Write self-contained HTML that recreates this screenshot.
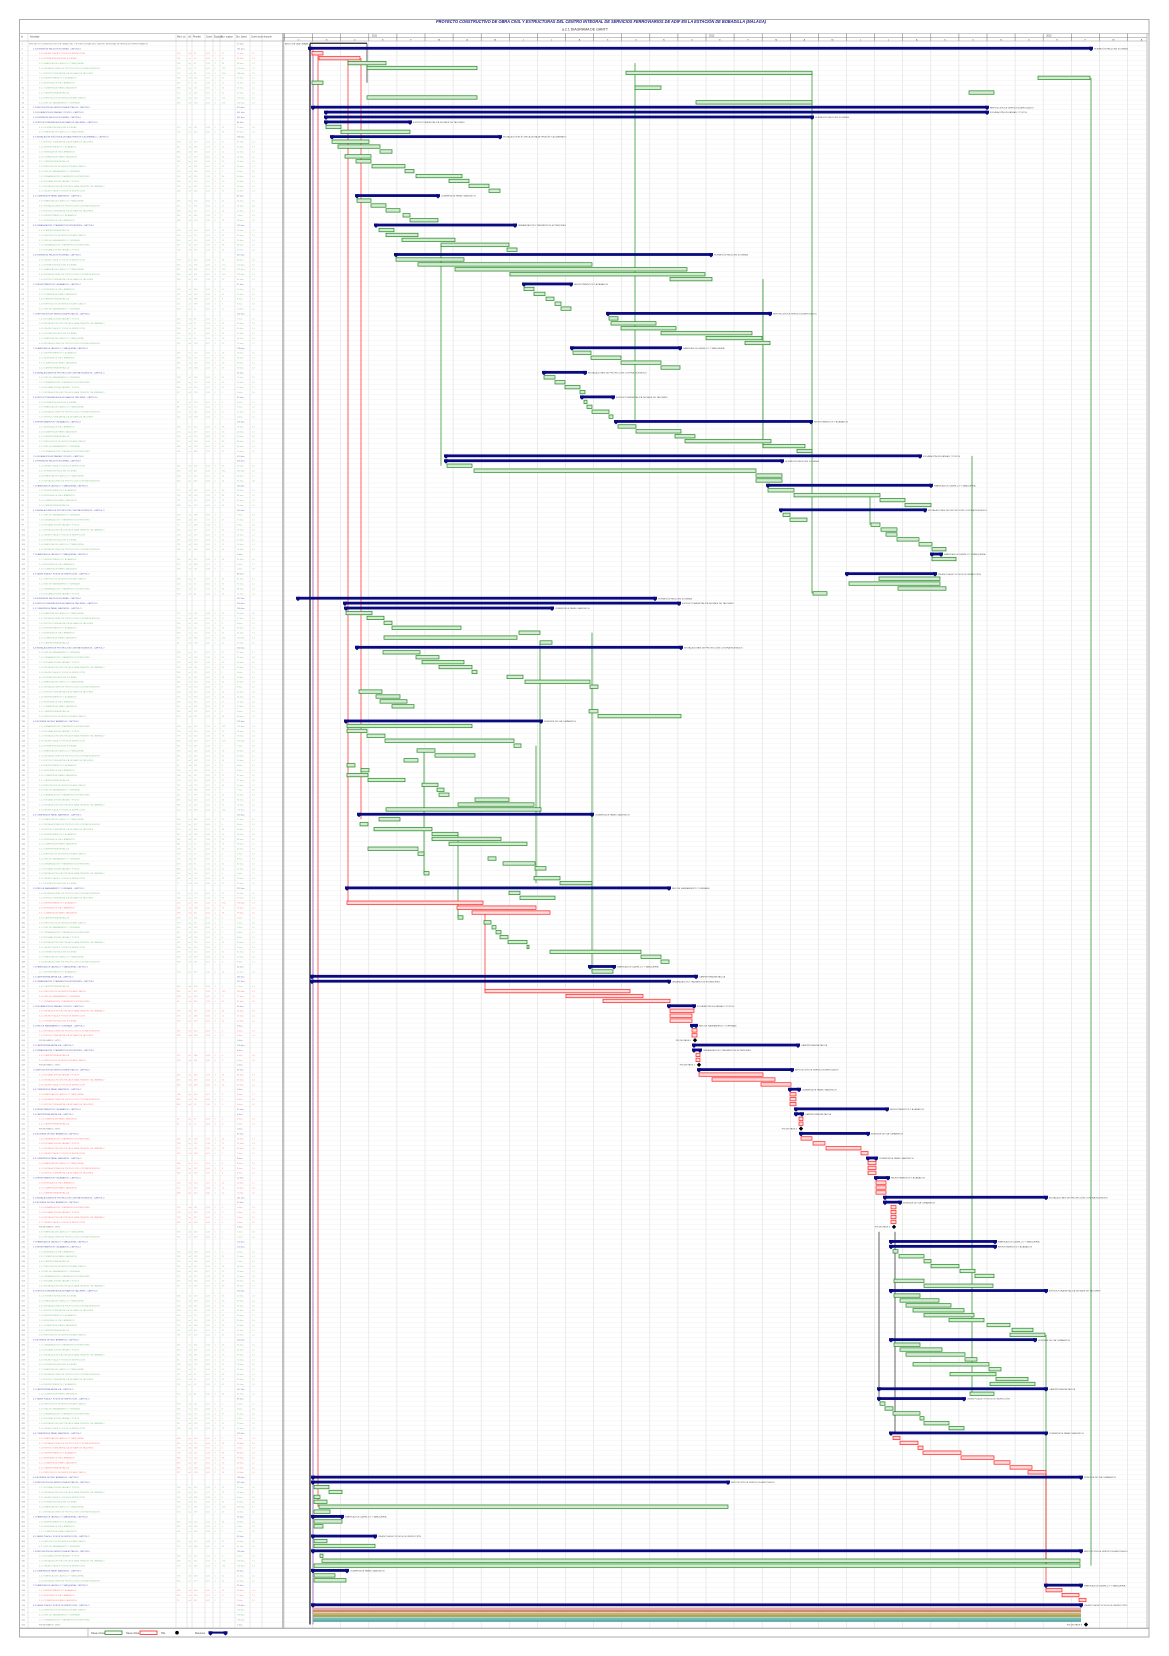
<!DOCTYPE html>
<html><head><meta charset="utf-8">
<style>
html,body{margin:0;padding:0;background:#fff;}
svg{display:block;font-family:"Liberation Sans",sans-serif;}
</style></head>
<body>
<svg id="g" width="1169" height="1656" viewBox="0 0 1169 1656" xmlns="http://www.w3.org/2000/svg">
  <rect x="0" y="0" width="1169" height="1656" fill="#fff"/>
  <text x="601" y="23" text-anchor="middle" font-size="4.3" font-weight="bold" font-style="italic" fill="#1a1a8a" textLength="330" lengthAdjust="spacingAndGlyphs">PROYECTO CONSTRUCTIVO DE OBRA CIVIL Y ESTRUCTURAS DEL CENTRO INTEGRAL DE SERVICIOS FERROVIARIOS DE ADIF EN LA ESTACIÓN DE BOBADILLA (MÁLAGA)</text>
  <text x="585" y="30.5" text-anchor="middle" font-size="4" fill="#333" textLength="46" lengthAdjust="spacingAndGlyphs">a.2.1 DIAGRAMA DE GANTT</text>
</svg>
<script>
// ---------- chart data (row index, start day, end day, kind) ----------
// kinds: S summary, G task, R critical task, M milestone, K project, P/T/C bands
const sectionTop = [
 [0,14,71,'K'],[1,14,795,'S'],[2,16,27,'R'],[3,23,64,'R'],[4,52,90,'G'],[5,71,181,'G'],
 [6,330,516,'G'],[7,742,794,'G'],[8,16,27,'G'],[9,339,365,'G'],[10,673,698,'G'],[11,71,181,'G'],
 [12,400,516,'G'],[13,17,691,'S'],[14,30,691,'S'],[15,30,516,'S'],[16,30,114,'S']
];
const sectionEdif = [
 [17,30,45,'G'],[18,45,114,'G'],[19,36,204,'S'],[20,36,73,'G'],[21,42,84,'G'],[22,84,96,'G'],
 [23,49,75,'G'],[24,60,75,'G'],[25,76,109,'G'],[26,109,118,'G'],[27,120,166,'G'],[28,153,173,'G'],
 [29,173,193,'G'],[30,193,204,'G'],[31,61,142,'S'],[32,61,75,'G'],[33,75,90,'G'],[34,90,104,'G'],
 [35,107,114,'G'],[36,114,142,'G'],[37,80,219,'S'],[38,83,98,'G'],[39,90,122,'G'],[40,106,159,'G'],
 [41,145,213,'G'],[42,211,221,'G'],[43,100,415,'S'],[44,100,168,'G'],[45,122,296,'G'],[46,159,391,'G'],
 [47,214,409,'G'],[48,374,416,'G'],[49,228,275,'S'],[50,228,238,'G'],[51,238,249,'G'],[52,250,258,'G'],
 [53,259,265,'G'],[54,265,275,'G'],[55,312,474,'S'],[56,313,322,'G'],[57,315,360,'G'],[58,325,380,'G'],
 [59,365,456,'G'],[60,410,466,'G'],[61,449,474,'G'],[62,276,384,'S'],[63,277,295,'G'],[64,295,325,'G'],
 [65,325,365,'G'],[66,365,384,'G'],[67,248,289,'S'],[68,248,259,'G'],[69,259,269,'G'],[70,269,284,'G'],
 [71,284,289,'G'],[72,286,317,'S'],[73,288,291,'G'],[74,291,296,'G'],[75,296,313,'G'],[76,313,317,'G']
];
const sectionInst = [
 [77,320,515,'S'],[78,322,340,'G'],[79,340,385,'G'],[80,379,399,'G'],[81,389,475,'G'],[82,467,509,'G'],
 [83,501,516,'G'],[84,150,624,'S'],[85,150,486,'S'],[86,151,176,'G'],[87,178,460,'G'],[88,460,486,'G'],
 [89,460,486,'G'],[90,472,635,'S'],[91,472,498,'G'],[92,498,584,'G'],[93,584,609,'G'],[94,609,635,'G'],
 [95,485,629,'S'],[96,487,494,'G'],[97,494,511,'G'],[98,575,584,'G'],[99,585,601,'G'],[100,590,601,'G'],
 [101,601,623,'G'],[102,623,636,'G'],[103,636,650,'G'],[104,636,645,'S'],[105,636,660,'G'],
 [108,551,639,'S'],[109,583,644,'G'],[110,553,644,'G'],[111,602,650,'G'],[112,517,531,'G']
];
const sectionVia = [
 [113,2,359,'S'],[114,49,383,'S'],[115,50,256,'S'],[116,50,76,'G'],[117,71,88,'G'],[118,88,96,'G'],
 [119,96,165,'G'],[120,223,244,'G'],[121,88,221,'G'],[122,244,256,'G'],[123,61,385,'S'],[124,87,124,'G'],
 [125,120,143,'G'],[126,126,168,'G'],[127,143,176,'G'],[128,176,181,'G'],[129,211,227,'G'],[130,229,294,'G'],
 [131,294,302,'G'],[132,63,86,'G'],[133,80,104,'G'],[134,84,111,'G'],[135,96,118,'G'],[136,293,302,'G'],
 [137,302,385,'G'],[138,50,245,'S'],[139,51,176,'G'],[140,51,71,'G'],[141,71,89,'G'],[142,89,218,'G'],
 [143,218,225,'G'],[144,121,139,'G'],[145,139,179,'G'],[146,108,122,'G'],[147,51,59,'G'],[148,65,73,'G'],
 [149,51,72,'G'],[150,72,109,'G'],[151,126,142,'G'],[152,141,148,'G'],[153,143,153,'G'],[154,179,213,'G'],
 [155,162,238,'G'],[156,90,245,'G'],[157,63,296,'S'],[158,83,104,'G'],[159,64,72,'G'],[160,78,136,'G'],
 [161,136,162,'G'],[162,136,205,'G'],[163,153,231,'G'],[164,72,122,'G'],[165,122,128,'G'],[166,192,200,'G'],
 [167,207,239,'G'],[168,239,250,'G'],[169,128,133,'G'],[170,238,264,'G'],[171,264,296,'G'],[172,51,373,'S'],
 [173,213,224,'G'],[174,224,259,'G'],[175,51,187,'R'],[176,161,240,'R'],[177,176,254,'R'],[178,162,167,'G'],
 [179,188,195,'G'],[180,196,200,'G'],[181,200,205,'G'],[182,204,212,'G'],[183,212,231,'G'],[184,231,233,'G'],
 [185,254,345,'G'],[186,345,365,'G'],[187,365,373,'G'],[188,294,318,'S'],[189,296,317,'G'],[190,16,400,'S'],
 [191,16,373,'S'],[193,189,334,'R']
];
const sectionFases = [
 [194,270,347,'R'],[195,307,374,'R'],[196,373,398,'S'],[197,374,398,'R'],[198,374,396,'R'],[199,374,396,'R'],
 [200,396,400,'S'],[201,396,401,'R'],[202,396,401,'R'],[203,399,399,'M'],[204,398,502,'S'],[205,398,404,'S'],
 [206,400,404,'R'],[207,400,404,'R'],[208,403,403,'M'],[209,403,496,'S'],[210,403,467,'R'],[211,416,479,'R'],
 [212,465,495,'R'],[213,494,503,'S'],[214,494,500,'R'],[215,494,500,'R'],[216,494,500,'R'],[217,500,591,'S'],
 [218,500,506,'S'],[219,503,507,'R'],[220,503,507,'R'],[221,505,505,'M'],[222,505,572,'S'],[223,505,516,'R'],
 [224,517,529,'R'],[225,530,565,'R'],[226,565,572,'R'],[227,572,580,'S'],[228,572,580,'R'],[229,572,580,'R'],
 [230,572,580,'R'],[231,580,592,'S'],[232,580,590,'R'],[233,580,590,'R'],[234,580,590,'R'],[235,589,750,'S'],
 [236,589,604,'S'],[237,595,600,'R'],[238,595,600,'R'],[239,595,600,'R'],[240,595,600,'R'],[241,598,598,'M'],
 [244,595,699,'S'],[245,595,699,'S'],[246,597,602,'G'],[247,603,628,'G'],[248,628,635,'G'],[249,635,663,'G'],
 [250,664,679,'G'],[251,679,698,'G'],[252,598,628,'G'],[253,628,697,'G'],[254,595,750,'S'],[255,598,624,'G']
];
const sectionFinal = [
 [256,604,643,'G'],[257,610,655,'G'],[258,617,668,'G'],[259,628,678,'G'],[260,653,688,'G'],[261,691,714,'G'],
 [262,716,737,'G'],[263,714,749,'G'],[264,595,739,'S'],[265,598,624,'G'],[266,604,646,'G'],[267,610,669,'G'],
 [268,669,681,'G'],[269,617,693,'G'],[270,693,705,'G'],[271,654,700,'G'],[272,700,732,'G'],[273,694,739,'G'],
 [274,583,750,'S'],[275,674,698,'G'],[276,583,668,'S'],[277,584,589,'G'],[278,589,597,'G'],[279,597,624,'G'],
 [280,624,628,'G'],[281,628,653,'G'],[282,653,668,'G'],[283,595,750,'S'],[284,597,604,'R'],[285,604,622,'R'],
 [286,622,627,'R'],[287,627,665,'R'],[288,665,698,'R'],[289,698,714,'R'],[290,714,736,'R'],[291,732,750,'R'],
 [292,17,785,'S'],[293,17,432,'S'],[294,18,33,'G'],[295,33,46,'G'],[296,18,24,'G'],[297,18,31,'G'],
 [298,23,432,'G'],[299,18,34,'G'],[300,17,46,'S'],[301,18,46,'G'],[302,18,27,'G'],[304,17,79,'S'],
 [305,18,31,'G'],[306,18,79,'G'],[307,17,785,'S'],[308,24,27,'G'],[309,26,784,'G'],[310,18,784,'G'],
 [311,17,51,'S'],[312,18,39,'G'],[313,18,50,'G'],[314,750,785,'S'],[315,750,766,'R'],[316,766,783,'R'],
 [317,783,790,'R'],[318,17,785,'S'],[319,17,785,'P'],[320,17,785,'T'],[321,17,785,'C'],[322,790,790,'M']
];
// vertical dependency links: day, fromRow, toRow
const linkDay  = [14, 17, 22, 52, 65, 189, 339, 467, 516, 676, 795, 750, 750, 583, 599, 71, 240, 296, 162, 244, 145, 574, 128];
const linkFrom = [0,  1,  2,  3,  3,  177, 4,   48,  6,   84,  7,   263, 291, 242, 242, 0,  143, 120, 161, 122, 41,  92,  144];
const linkTo   = [322,322,298,175,158,193, 77,  82,  112, 275, 310, 310, 315, 276, 283, 8,  171, 189, 178, 157, 86,  98,  169];
const linkKind = ['K','V','R','R','R','R','G','G','G','G','G','G','R','K','K','K','G','G','G','G','G','G','G'];
const monthLabels = ['E','F','M','A','M','J','J','A','S','O','N','D'];
const yearLabels = ['2011','2012','2013'];

// ---------- layout ----------
const NS='http://www.w3.org/2000/svg';
const svg=document.getElementById('g');
const N=323, TOP=41, BOT=1627, H=(BOT-TOP)/N;
const CH_L=283, CH_R=1147;
function yc(r){return TOP+(r+0.5)*H;}
function xd(d){return 296+d;}
function mk(tag,attrs,parent){const e=document.createElementNS(NS,tag);for(const k in attrs)e.setAttribute(k,attrs[k]);(parent||svg).appendChild(e);return e;}
function grp(name){const g=mk('g',{});


return g;}

const allBars=[].concat(sectionTop,sectionEdif,sectionInst,sectionVia,sectionFases,sectionFinal);
const rowKind=new Array(N).fill('G');
const rowBar=new Array(N).fill(null);
allBars.forEach(b=>{rowKind[b[0]]=b[3];rowBar[b[0]]=b;});
rowKind[0]='K';

// ---------- grid ----------
const gGrid=grp('chart-grid');
for(let x=284.5;x<CH_R;x+=28.1){
  const l=mk('line',{x1:x,y1:33.5,x2:x,y2:1628,stroke:'#dedede','stroke-width':0.6},gGrid);
  
  
}
const gRows=grp('row-lines');
for(let r=0;r<=N;r++){
  const y=TOP+r*H;
  const l=mk('line',{x1:20,y1:y,x2:CH_R,y2:y,stroke:'#ececec','stroke-width':0.4},gRows);
  
  
}
const colX=[28,176,187,192,205,213,220,235,250,262];
const gCols=grp('table-columns');
colX.forEach(x=>{
  const l=mk('line',{x1:x,y1:33.5,x2:x,y2:1628,stroke:'#d4d4d4','stroke-width':0.5},gCols);
  
  
});

// ---------- headers ----------
const gHead=grp('table-header');
const headTxt=['Id','Actividad','Med. ud.','Ud','Rendim.','Coste','Equipos','Dur. equipo','Dur. (días)','Coste acum.','Importe'];
const headX=[21,30,177,188,193,206,214,221,236,251,264];
headTxt.forEach((t,i)=>{
  const e=mk('text',{x:headX[i],y:37.5,'font-size':2.3,fill:'#555'},gHead);
  e.textContent=t;
  
  
});
const gTH=grp('timeline-header');
{
  const l1=mk('line',{x1:CH_L,y1:37.3,x2:CH_R,y2:37.3,stroke:'#888','stroke-width':0.5},gTH);
  
  
  let k=0;
  for(let x=284.5;x<CH_R-10;x+=28.1,k++){
    const t=mk('text',{x:x+14,y:40.4,'font-size':2.2,fill:'#444','text-anchor':'middle'},gTH);
    t.textContent=monthLabels[(k+9)%12];
    
    
    if((k+9)%12===0){
      const y=mk('text',{x:x+3,y:36.3,'font-size':2.4,fill:'#444'},gTH);
      y.textContent=yearLabels[Math.floor((k+9)/12)-1]||'';
      
      
    }
    const tk=mk('line',{x1:x,y1:33.5,x2:x,y2:41,stroke:'#777','stroke-width':0.5},gTH);
    
    
  }
}

// ---------- table text ----------
const phr=['EXCAVACIÓN EN ZANJAS Y POZOS','HORMIGÓN HM-20 EN SOLERAS','ESTRUCTURA METÁLICA DE NAVE DE TALLERES','CUBIERTA DE PANEL SÁNDWICH','RED DE SANEAMIENTO Y DRENAJE','INSTALACIÓN ELÉCTRICA DE BAJA TENSIÓN Y ALUMBRADO','FÁBRICAS DE LADRILLO Y TABIQUERÍA','REVESTIMIENTOS Y ACABADOS','CARPINTERÍA METÁLICA','URBANIZACIÓN Y PAVIMENTOS EXTERIORES','VÍA EN PLACA Y FOSOS DE INSPECCIÓN','INSTALACIONES DE PROTECCIÓN CONTRA INCENDIOS','MONTAJE DE VÍA Y APARATOS','REPOSICIÓN DE SERVICIOS AFECTADOS'];
const kindColor={S:'#2a2a9a',G:'#4aa84a',R:'#ff3a3a',M:'#333',K:'#333',P:'#4aa84a',T:'#4aa84a',C:'#4aa84a'};
const units=['ud','m2','m3','ml','kg'];
const gTable=grp('activity-table');
for(let r=0;r<N;r++){
  const k=rowKind[r];
  const y=yc(r)+0.9;
  const col=kindColor[k]||'#4aa84a';
  const id=mk('text',{x:21.5,y:y,'font-size':2.1,fill:'#888'},gTable);
  id.textContent=String(r+1);
  
  
  const indent = k==='S'?4:(k==='K'?0:10);
  let name;
  if(r===0) name='PROYECTO CONSTRUCTIVO DE OBRA CIVIL Y ESTRUCTURAS DEL CENTRO INTEGRAL DE SERVICIOS FERROVIARIOS';
  else if(k==='S') name=(1+(r%7))+'.'+(1+(r%5))+' '+phr[r%phr.length]+' - CAPÍTULO';
  else if(k==='M') name='FIN DE FASE '+(1+(r%9))+' - HITO';
  else name=(1+(r%7))+'.'+(1+(r%5))+'.'+(1+(r%9))+' '+phr[(r*5)%phr.length];
  const t=mk('text',{x:29+indent,y:y,'font-size':2.1,fill:col,'fill-opacity':k==='S'?0.75:0.65},gTable);
  t.textContent=name;
  
  
  const b=rowBar[r];
  const dur=b?Math.max(1,b[2]-b[1]):1;
  const dt=mk('text',{x:237,y:y,'font-size':2,fill:col,'fill-opacity':0.65},gTable);
  dt.textContent=dur+' días';
  
  
  if(k==='G'||k==='R'){
    const vals=[String(50+(r*37)%900),units[r%5],String(10+(r*13)%700),((r%7)+1)+',0'+(r%9),'1',String(dur)];
    const xs=[177,188.5,194,206,215,222];
    vals.forEach((v,i)=>{
      const c=mk('text',{x:xs[i],y:y,'font-size':2,fill:col,'fill-opacity':0.6},gTable);
      c.textContent=v;
      
      
    });
    const c2=mk('text',{x:252,y:y,'font-size':2,fill:col,'fill-opacity':0.6},gTable);
    c2.textContent='1,'+(r%9);
    
    
  }
}

// ---------- links ----------
const linkColor={K:'#222',V:'#c9a0d8',R:'#ff2020',G:'#1e8c1e'};
const gLinks=grp('dependency-links');
linkDay.forEach((d,i)=>{
  const l=mk('line',{x1:xd(d),y1:yc(linkFrom[i]),x2:xd(d),y2:yc(linkTo[i]),stroke:linkColor[linkKind[i]],'stroke-width':linkKind[i]==='K'&&i===0?1.3:(linkKind[i]==='V'?1.4:0.7)},gLinks);
  
  
});

// ---------- bars ----------
const gBars=grp('gantt-bars');
const bandFill={P:'#e7a9a9',T:'#c9b07a',C:'#78bcbc'};
allBars.forEach(b=>{
  const [r,s,e,k]=b;
  const y=yc(r), x1=xd(s), x2=xd(e);
  if(k==='S'){
    const g=mk('g',{},gBars);
    
    
    mk('rect',{x:x1,y:y-1.5,width:Math.max(1,x2-x1),height:2.8,fill:'#0a0a80'},g);
    mk('path',{d:`M${x1-2},${y-1.6}h4v2.6l-2,1.8l-2,-1.8z`,fill:'#0a0a80'},g);
    mk('path',{d:`M${x2-2},${y-1.6}h4v2.6l-2,1.8l-2,-1.8z`,fill:'#0a0a80'},g);
    const lab=mk('text',{x:x2+3,y:y+1,'font-size':2.2,fill:'#555'},gBars);
    lab.textContent=phr[r%phr.length];
    
    
  } else if(k==='G'||k==='R'){
    const rc=mk('rect',{x:x1,y:y-1.7,width:Math.max(1.5,x2-x1),height:3.4,fill:k==='G'?'#d6ead6':'#ffdada',stroke:k==='G'?'#1e8c1e':'#ff2020','stroke-width':0.7},gBars);
    
    
  } else if(k==='M'){
    const m=mk('path',{d:`M${x1},${y-2.2}l2.2,2.2l-2.2,2.2l-2.2,-2.2z`,fill:'#000'},gBars);
    
    
    const lab=mk('text',{x:x1-4,y:y+0.8,'font-size':2.2,fill:'#555','text-anchor':'end'},gBars);
    lab.textContent='FIN DE FASE '+(1+(r%9));
    
    
  } else if(k==='K'){
    const l=mk('rect',{x:x1,y:y-0.8,width:x2-x1,height:1.2,fill:'#222'},gBars);
    
    
    const lab=mk('text',{x:285,y:y+0.8,'font-size':2.2,fill:'#444'},gBars);
    lab.textContent='INICIO DE LAS OBRAS';
    
    
  } else {
    const rc=mk('rect',{x:x1,y:y-2.2,width:x2-x1,height:4.2,fill:bandFill[k]},gBars);
    
    
    const rc2=mk('rect',{x:x1,y:y+0.2,width:x2-x1,height:2,fill:k==='T'?'#a8a848':(k==='P'?'#c98c6c':'#5fa9a9')},gBars);
    
    
  }
});

// ---------- frame & legend ----------
const gFrame=grp('frame');
[[19.5,19.5,1129.5,1617.5,'#999',0.8]].forEach(a=>{
  const r=mk('rect',{x:a[0],y:a[1],width:a[2],height:a[3],fill:'none',stroke:a[4],'stroke-width':a[5]},gFrame);
  
  
});
[[20,33.5,1149,33.5,'#999',0.6],[20,41,CH_R,41,'#999',0.6],[CH_L,33.5,CH_L,1628,'#666',0.8],[CH_R,33.5,CH_R,1628,'#999',0.6],[20,1628.3,1149,1628.3,'#aaa',1.2],[88,1628,88,1637,'#999',0.6]].forEach(a=>{
  const l=mk('line',{x1:a[0],y1:a[1],x2:a[2],y2:a[3],stroke:a[4],'stroke-width':a[5]},gFrame);
  
  
});
const gLeg=grp('legend');
const legTexts=[['Tarea normal',91],['Tarea crítica',126],['Hito',161],['Resumen',195]];
legTexts.forEach(a=>{
  const t=mk('text',{x:a[1],y:1633.8,'font-size':2.4,fill:'#444'},gLeg);
  t.textContent=a[0];
  
  
});
const lg1=mk('rect',{x:105,y:1631,width:17,height:3.4,fill:'#fff',stroke:'#1e8c1e','stroke-width':0.8},gLeg);


const lg2=mk('rect',{x:140,y:1631,width:17,height:3.4,fill:'#fff',stroke:'#ff2020','stroke-width':0.8},gLeg);


const lg3=mk('circle',{cx:177,cy:1632.7,r:1.8,fill:'#000'},gLeg);


const lg4=mk('g',{},gLeg);


mk('rect',{x:210,y:1631.6,width:16,height:2,fill:'#0a0a80'},lg4);
mk('path',{d:'M208.5,1631.2h4v2.6l-2,1.8l-2,-1.8z',fill:'#0a0a80'},lg4);
mk('path',{d:'M223.5,1631.2h4v2.6l-2,1.8l-2,-1.8z',fill:'#0a0a80'},lg4);
</script>
</body></html>
